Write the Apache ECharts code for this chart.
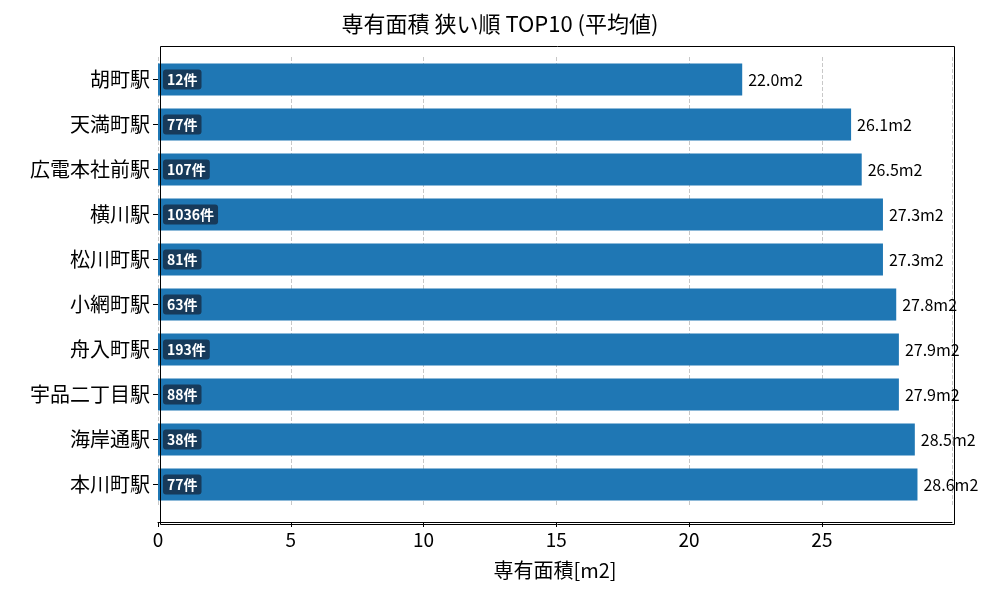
<!DOCTYPE html>
<html><head><meta charset="utf-8">
<script src="https://cdn.jsdelivr.net/npm/echarts@6/dist/echarts.min.js"></script>
<style>html,body{margin:0;padding:0;background:#fff}#c{width:1000px;height:600px}</style>
</head><body><div id="c"></div>
<script>
var stations = ['胡町駅', '天満町駅', '広電本社前駅', '横川駅', '松川町駅', '小網町駅', '舟入町駅', '宇品二丁目駅', '海岸通駅', '本川町駅'];
var areas = [22.0, 26.1, 26.5, 27.3, 27.3, 27.8, 27.9, 27.9, 28.5, 28.6];
var counts = [12, 77, 107, 1036, 81, 63, 193, 88, 38, 77];

var font = '"Noto Sans CJK JP", sans-serif';
var chart = echarts.init(document.getElementById('c'));
chart.setOption({
    animation: false,
    title: {
        text: '専有面積 狭い順 TOP10 (平均値)',
        left: 'center', top: 8,
        textStyle: {fontFamily: font, fontSize: 22, fontWeight: 'normal', color: '#000'}
    },
    // plot frame (matplotlib style box with margins above/below bars)
    graphic: [{
        type: 'rect', left: 158, top: 44, silent: true, z: 10,
        shape: {width: 794, height: 478},
        style: {fill: null, stroke: '#000', lineWidth: 1}
    }],
    grid: {left: 158, right: 48, top: 57, bottom: 93},
    xAxis: {
        type: 'value', min: 0, max: 29.9, interval: 5, offset: 15,
        name: '専有面積[m2]', nameLocation: 'middle', nameGap: 38,
        nameTextStyle: {fontFamily: font, fontSize: 20, color: '#000'},
        axisLine: {show: true, lineStyle: {color: '#000'}},
        axisTick: {show: true, lineStyle: {color: '#000'}},
        axisLabel: {fontFamily: font, fontSize: 19, color: '#000', showMaxLabel: false},
        splitLine: {show: true, lineStyle: {color: '#c8c8c8', type: 'dashed'}}
    },
    yAxis: {
        type: 'category', data: stations, inverse: true,
        axisLine: {show: false},
        axisTick: {show: true, alignWithLabel: true, lineStyle: {color: '#000'}},
        axisLabel: {fontFamily: font, fontSize: 20, color: '#000'}
    },
    series: [{
        type: 'bar', data: areas, barWidth: '71%',
        itemStyle: {color: '#1f77b4'},
        label: {
            show: true, position: 'insideLeft', distance: 5,
            formatter: function (p) { return counts[p.dataIndex] + '件'; },
            fontFamily: font, fontSize: 14, fontWeight: 'bold', color: '#fff',
            backgroundColor: '#173a5a', borderRadius: 3, padding: [3, 4]
        }
    }, {
        type: 'bar', data: areas, barWidth: '71%', barGap: '-100%',
        itemStyle: {color: 'rgba(0,0,0,0)'},
        label: {
            show: true, position: 'right', distance: 6,
            formatter: function (p) { return p.value.toFixed(1) + 'm2'; },
            fontFamily: font, fontSize: 16, color: '#000'
        }
    }]
});
</script></body></html>
